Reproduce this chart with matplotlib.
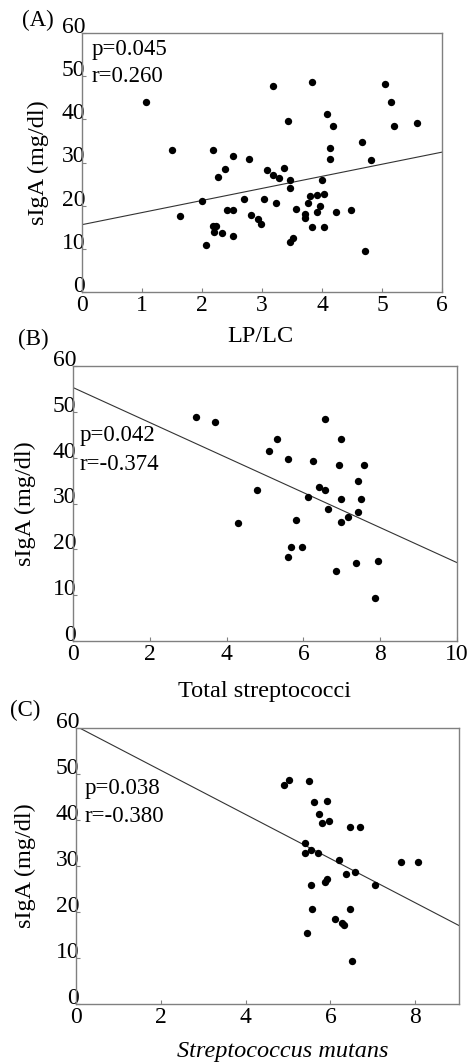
import matplotlib
matplotlib.use("Agg")
import matplotlib.pyplot as plt
import numpy as np

plt.rcParams['font.family'] = ['Liberation Serif', 'DejaVu Serif']

# Panel A data
a_x = [1.06, 1.5, 1.64, 2.0, 2.07, 2.19, 2.19, 2.24, 2.2, 2.27, 2.33, 2.38, 2.41, 2.52, 2.52,
       2.52, 2.7, 2.79, 2.81, 2.94, 2.99, 3.03, 3.08, 3.18, 3.18, 3.24, 3.28, 3.37, 3.44, 3.47,
       3.47, 3.47, 3.52, 3.56, 3.71, 3.72, 3.76, 3.8, 3.84, 3.84, 3.91, 3.91, 3.96, 4.0, 4.04,
       4.04, 4.09, 4.13, 4.13, 4.19, 4.24, 4.48, 4.67, 4.72, 4.81, 5.05, 5.15, 5.2, 5.58]
a_y = [43.9, 32.9, 17.7, 21.0, 10.9, 32.9, 15.4, 15.4, 14.0, 26.6, 13.7, 28.6, 19.1, 19.1, 13.0,
       31.4, 21.5, 30.9, 17.9, 16.9, 15.8, 21.5, 28.2, 47.7, 27.1, 20.7, 26.3, 28.7, 39.7, 25.9,
       24.1, 11.5, 12.4, 19.3, 17.2, 18.0, 20.7, 22.3, 48.7, 15.1, 22.4, 18.5, 20.0, 25.9, 22.8,
       15.1, 41.3, 33.4, 30.9, 38.5, 18.5, 18.9, 34.8, 9.4, 30.5, 48.3, 44.0, 38.4, 39.2]
a_fit = [15.6, 2.8]  # intercept, slope

# Panel B data
b_x = [3.2, 3.7, 4.3, 4.8, 5.1, 5.31, 5.6, 5.6, 5.69, 5.82, 5.97, 6.12, 6.26, 6.41, 6.56,
       6.56, 6.63, 6.85, 6.93, 6.99, 6.99, 6.99, 7.15, 7.36, 7.43, 7.43, 7.5, 7.59, 7.87, 7.94]
b_y = [48.8, 47.8, 25.8, 32.9, 41.4, 44.1, 39.7, 18.3, 20.6, 26.5, 20.6, 31.5, 39.3, 33.5, 48.4,
       32.9, 28.8, 15.3, 38.5, 44.0, 30.9, 25.9, 27.0, 17.0, 34.9, 28.2, 30.9, 38.5, 9.3, 17.5]
b_fit = [55.3, -3.82]

# Panel C data
c_x = [4.91, 5.02, 5.5, 5.62, 5.91, 5.72, 5.8, 5.96, 6.45, 6.7, 5.4, 5.39, 5.55, 5.7, 6.21,
       7.67, 8.06, 6.58, 6.37, 5.91, 5.87, 5.55, 7.06, 5.57, 6.45, 6.1, 6.27, 6.33, 5.45, 6.5]
c_y = [47.7, 48.8, 48.4, 44.0, 44.2, 41.4, 39.3, 39.7, 38.4, 38.5, 34.9, 32.9, 33.5, 32.9, 31.4,
       30.9, 30.9, 28.8, 28.2, 27.1, 26.6, 25.9, 25.9, 20.7, 20.7, 18.4, 17.6, 17.1, 15.4, 9.4]
c_fit = [60.4, -4.8]

yticks = [0, 10, 20, 30, 40, 50, 60]

W, H = 469, 1064
fig = plt.figure(figsize=(W / 100, H / 100), dpi=100)

def px_rect(l, r, t, b):
    return [l / W, 1 - b / H, (r - l) / W, (b - t) / H]

panels = [
    dict(rect=px_rect(82, 442, 33, 292), x=a_x, y=a_y, fit=a_fit, xlim=(0, 6), xticks=[0, 1, 2, 3, 4, 5, 6],
         xlabel="LP/LC", xl_pos=(260, 337), yl_x=38, tag="(A)", tag_pos=(22, 26),
         stats=("p=0.045", "r=0.260"), st_pos=(92, 55, 82), italic=False),
    dict(rect=px_rect(73, 457, 366, 641), x=b_x, y=b_y, fit=b_fit, xlim=(0, 10), xticks=[0, 2, 4, 6, 8, 10],
         xlabel="Total streptococci", xl_pos=(264, 692), yl_x=25, tag="(B)", tag_pos=(18, 345),
         stats=("p=0.042", "r=-0.374"), st_pos=(80, 441, 470), italic=False),
    dict(rect=px_rect(76, 459, 728, 1004), x=c_x, y=c_y, fit=c_fit, xlim=(0, 9.03), xticks=[0, 2, 4, 6, 8],
         xlabel="Streptococcus mutans", xl_pos=(283, 1051), yl_x=25, tag="(C)", tag_pos=(10, 716),
         stats=("p=0.038", "r=-0.380"), st_pos=(85, 794, 822), italic=True),
]

spine_col = '#808080'
fs_tick = 17
fs_label = 17.5
fs_text = 16.5

for p in panels:
    ax = fig.add_axes(p['rect'])
    ax.scatter(p['x'], p['y'], s=28, color='black', zorder=3, linewidths=0)
    xx = np.linspace(p['xlim'][0], p['xlim'][1], 50)
    ax.plot(xx, p['fit'][0] + p['fit'][1] * xx, color='#333333', lw=0.8, zorder=2)
    ax.set_xlim(*p['xlim'])
    ax.set_ylim(0, 60)
    ax.set_xticks(p['xticks'])
    ax.set_yticks(yticks)
    ax.set_xticklabels([str(v) for v in p['xticks']])
    ax.set_yticklabels([str(v) for v in yticks])
    for s in ax.spines.values():
        s.set_color(spine_col)
        s.set_linewidth(1.0)
    ax.tick_params(direction='in', length=3, width=0.8, color=spine_col, labelsize=fs_tick, labelcolor='black')
    ax.tick_params(axis='y', pad=-2.2)
    ax.tick_params(axis='x', pad=2.5)
    for lbl in ax.get_yticklabels():
        lbl.set_verticalalignment('baseline')
    cy = p['rect'][1] + p['rect'][3] / 2
    fig.text(p['yl_x'] / W, cy, "sIgA (mg/dl)", rotation=90, ha='center', va='center', fontsize=fs_label)
    fig.text(p['xl_pos'][0] / W, 1 - p['xl_pos'][1] / H, p['xlabel'], ha='center', va='center',
             fontsize=fs_label, style='italic' if p['italic'] else 'normal')
    fig.text(p['tag_pos'][0] / W, 1 - p['tag_pos'][1] / H, p['tag'], ha='left', va='baseline', fontsize=fs_text)
    sx, s1, s2 = p['st_pos']
    fig.text(sx / W, 1 - s1 / H, p['stats'][0], ha='left', va='baseline', fontsize=fs_text)
    fig.text(sx / W, 1 - s2 / H, p['stats'][1], ha='left', va='baseline', fontsize=fs_text)

fig.savefig("out.png", dpi=100)
